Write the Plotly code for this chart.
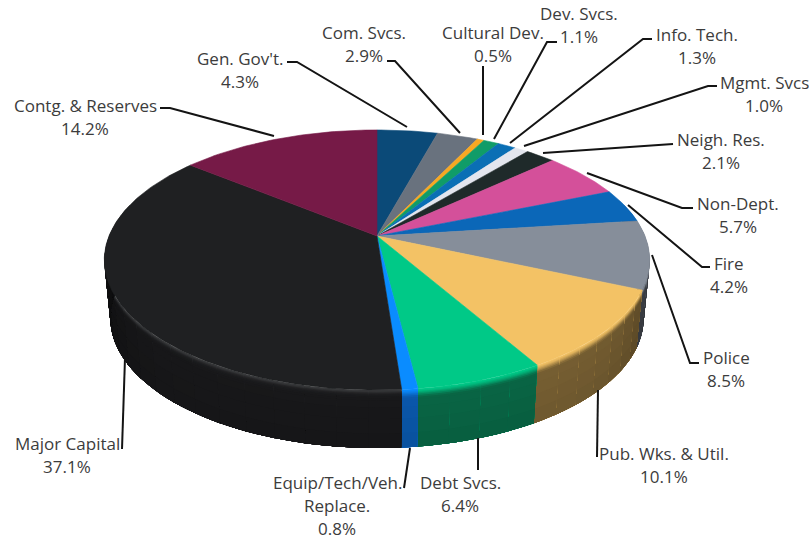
import math
import plotly.graph_objects as go

# Budget shares by department, clockwise from twelve o'clock
departments = ["Gen. Gov't.", "Com. Svcs.", "Cultural Dev.", "Dev. Svcs.", "Info. Tech.",
               "Mgmt. Svcs", "Neigh. Res.", "Non-Dept.", "Fire", "Police",
               "Pub. Wks. & Util.", "Debt Svcs.", "Equip/Tech/Veh. Replace.",
               "Major Capital", "Contg. & Reserves"]
shares = [4.3, 2.9, 0.5, 1.1, 1.3, 1.0, 2.1, 5.7, 4.2, 8.5, 10.1, 6.4, 0.8, 37.1, 14.2]

top_colors = ["#0b4a78", "#69727e", "#f7a823", "#109c68", "#0a6fb5",
              "#e3e6ee", "#1f2a2a", "#d4509a", "#0b67b8", "#868e9a",
              "#f3c265", "#00c987", "#0a8cff", "#1f2022", "#761a47"]
wall_colors = ["#062a44", "#3a4048", "#8a5e14", "#085a3a", "#053f68",
               "#80828a", "#111717", "#782c56", "#063a68", "#4c5058",
               "#786033", "#096645", "#0a58ac", "#18181a", "#430f28"]

# Wrapped label text and its placement in pixels
label_lines = [["Gen. Gov't."], ["Com. Svcs."], ["Cultural Dev."], ["Dev. Svcs."], ["Info. Tech."],
               ["Mgmt. Svcs"], ["Neigh. Res."], ["Non-Dept."], ["Fire"], ["Police"],
               ["Pub. Wks. & Util."], ["Debt Svcs."], ["Equip/Tech/Veh.", "Replace."],
               ["Major Capital"], ["Contg. & Reserves"]]
label_anchor = [(240, 58), (364, 32), (493, 32), (579, 13), (697, 34),
                (764, 82), (721, 139), (738, 203), (729, 263), (726, 357),
                (664, 453), (460, 482), (337, 482), (67, 443), (85, 105)]
LINE_STEP = 23

# Leader polylines, from the label towards the pie
leaders = [
    [(287, 62), (297, 62), (407, 127)],
    [(387, 61), (395, 61), (460, 133)],
    [(483, 66), (483, 135)],
    [(557, 42), (547, 42), (494, 139)],
    [(652, 39), (643, 39), (510, 143)],
    [(717, 86), (708, 86), (524, 146)],
    [(673, 144), (543, 153)],
    [(693, 208), (682, 208), (587, 173)],
    [(710, 267), (702, 267), (628, 205)],
    [(699, 363), (690, 363), (652, 255)],
    [(597, 457), (598, 390)],
    [(478, 470), (478, 438)],
    [(404, 488), (410, 448)],
    [(122, 449), (125, 358)],
    [(160, 108), (170, 108), (274, 136)],
]

# Perspective disc geometry
CX, CY = 377, 236
A, B, K = 268, 125.6, 0.1847
DEPTH, BOTTOM_SCALE = 58, 0.978
WALL_STEPS = [0, .012, .025, .045, .065, .085, .11, .14, .18, .3, .5, .75]
ANGLE_STEP = 6


def project(theta, t=0.0):
    """Screen position of a rim point at clockwise angle theta, t=0 on top, t=1 on the base."""
    u, v = math.sin(theta), -math.cos(theta)
    w = 1 - K * v
    scale = 1 + (BOTTOM_SCALE - 1) * t
    return CX + scale * A * u / w, CY + DEPTH * t + B * v / w


def rgb(hex_color):
    return [int(hex_color[i:i + 2], 16) for i in (1, 3, 5)]


def wall_shade(top, wall, t, theta):
    a, b = rgb(top), rgb(wall)
    s = min(1, t / 0.16)
    s = s * s * (3 - 2 * s)
    edge = 1 - 0.4 * abs(math.sin(theta)) ** 8 * min(1, t / 0.1)
    dark = sum(a) < 120
    glow = 30 * math.exp(-(t / 0.045) ** 2) if dark else 0
    tail = 1 - 0.08 * t
    c = [(a[i] + (b[i] - a[i]) * s) * edge * tail + glow for i in range(3)]
    return "rgb(%d,%d,%d)" % tuple(max(0, min(255, round(x))) for x in c)


def polygon(points, color, stroke=0.6):
    xs = [p[0] for p in points] + [points[0][0]]
    ys = [p[1] for p in points] + [points[0][1]]
    line = dict(color=color, width=stroke)
    return go.Scatter(x=xs, y=ys, mode="lines" if stroke else "none", fill="toself",
                      fillcolor=color, line=line, hoverinfo="skip", showlegend=False)


fig = go.Figure()
total = sum(shares)
cum = 0
spans = []
for share in shares:
    spans.append((cum / total * 2 * math.pi, (cum + share) / total * 2 * math.pi))
    cum += share

# Side wall, front half only. Cells are painted over one another so the soft
# antialiased edges blend into the previous band and no seams show.
for (a0, a1), top, wall in zip(spans, top_colors, wall_colors):
    lo = max(a0, math.radians(75))
    hi = min(a1, math.radians(285))
    if hi <= lo:
        continue
    n = max(1, math.ceil(math.degrees(hi - lo) / ANGLE_STEP))
    for j in range(n):
        start = lo + (hi - lo) * j / n
        stop = min(hi, start + (hi - lo) / n + math.radians(0.8))
        mid = start + (hi - lo) / (2 * n)
        for t0, t1 in zip(WALL_STEPS, WALL_STEPS[1:] + [1]):
            steps = 3
            upper = [project(start + (stop - start) * q / steps, t0) for q in range(steps + 1)]
            lower = [project(start + (stop - start) * q / steps, 1) for q in range(steps, -1, -1)]
            fig.add_trace(polygon(upper + lower, wall_shade(top, wall, (t0 + t1) / 2, mid), stroke=0))

# Top face slices
for (a0, a1), top in zip(spans, top_colors):
    n = max(2, math.ceil(math.degrees(a1 - a0)))
    arc = [project(a0 + (a1 - a0) * j / n) for j in range(n + 1)]
    fig.add_trace(polygon([(CX, CY)] + arc, top))

# Leader lines
for path in leaders:
    fig.add_trace(go.Scatter(x=[p[0] for p in path], y=[p[1] for p in path], mode="lines",
                             line=dict(color="#141414", width=2), hoverinfo="skip",
                             showlegend=False))

# Labels, one annotation per line for tight control of the leading
annotations = []
for lines, share, (lx, ly) in zip(label_lines, shares, label_anchor):
    for k, text in enumerate(lines + [f"{share:.1f}%"]):
        annotations.append(dict(x=lx, y=ly + k * LINE_STEP, xref="x", yref="y", text=text,
                                showarrow=False, xanchor="center", yanchor="middle",
                                font=dict(family="Open Sans", size=17, color="#3c3c3c")))

fig.update_layout(
    width=809, height=540, margin=dict(l=0, r=0, t=0, b=0),
    paper_bgcolor="white", plot_bgcolor="white", showlegend=False,
    annotations=annotations,
    xaxis=dict(range=[0, 809], visible=False, fixedrange=True),
    yaxis=dict(range=[540, 0], visible=False, fixedrange=True),
)
fig.write_html("out.html", config=dict(displayModeBar=False))
